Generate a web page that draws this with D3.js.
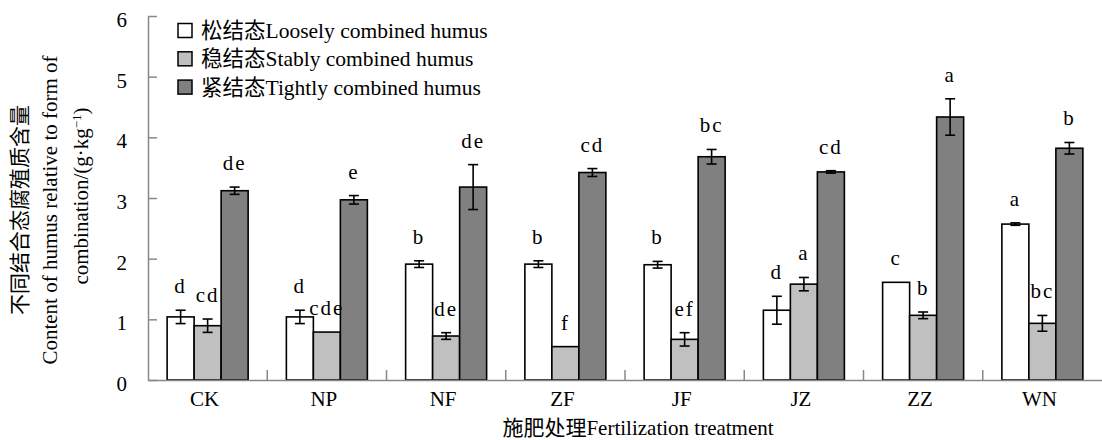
<!DOCTYPE html>
<html>
<head>
<meta charset="utf-8">
<script src="https://cdn.jsdelivr.net/npm/d3@7"></script>
<style>
  body { margin: 0; background: #fff; }
</style>
</head>
<body>
<svg id="chart" width="1102" height="440"></svg>
<script>
const groups = ['CK', 'NP', 'NF', 'ZF', 'JF', 'JZ', 'ZZ', 'WN'];
const seriesNames = ['松结态Loosely combined humus', '稳结态Stably combined humus', '紧结态Tightly combined humus'];
const seriesColors = ['#ffffff', '#c0c0c0', '#808080'];

const loose = [1.04, 1.04, 1.91, 1.91, 1.90, 1.15, 1.61, 2.57];
const looseErr = [0.11, 0.11, 0.055, 0.055, 0.055, 0.23, 0, 0.02];
const looseSig = ['d', 'd', 'b', 'b', 'b', 'd', 'c', 'a'];

const stable = [0.895, 0.79, 0.725, 0.55, 0.67, 1.58, 1.066, 0.934];
const stableErr = [0.11, 0, 0.055, 0, 0.11, 0.11, 0.055, 0.13];
const stableSig = ['cd', 'cde', 'de', 'f', 'ef', 'a', 'b', 'bc'];

const tight = [3.12, 2.97, 3.18, 3.42, 3.68, 3.43, 4.335, 3.82];
const tightErr = [0.06, 0.07, 0.37, 0.065, 0.12, 0.02, 0.30, 0.095];
const tightSig = ['de', 'e', 'de', 'cd', 'bc', 'cd', 'a', 'b'];

const yTicks = [0, 1, 2, 3, 4, 5, 6];

const FONT = "'Liberation Serif', 'Noto Sans CJK SC', serif";

const values = [loose, stable, tight];
const errs = [looseErr, stableErr, tightErr];
const sigs = [looseSig, stableSig, tightSig];

const rows = [];
groups.forEach((g, gi) => {
  seriesNames.forEach((s, si) => {
    rows.push({ g, si, v: values[si][gi], e: errs[si][gi], sig: sigs[si][gi] });
  });
});

const svg = d3.select('#chart');
const plotLeft = 148, plotRight = 1102, plotTop = 16, plotBottom = 380;

const x0 = d3.scaleBand().domain(groups).range([plotLeft, plotRight]).padding(0);
const x1 = d3.scaleBand().domain(d3.range(3)).range([0, x0.bandwidth()])
  .paddingInner(0).paddingOuter(0.708);
const y = d3.scaleLinear().domain([0, 6]).range([plotBottom, plotTop]);

// bars
svg.append('g').selectAll('rect')
  .data(rows)
  .join('rect')
  .attr('x', d => x0(d.g) + x1(d.si))
  .attr('y', d => y(d.v))
  .attr('width', x1.bandwidth())
  .attr('height', d => y(0) - y(d.v))
  .attr('fill', d => seriesColors[d.si])
  .attr('stroke', '#000')
  .attr('stroke-width', 1.6);

// error bars
const eb = svg.append('g').selectAll('g')
  .data(rows.filter(d => d.e > 0))
  .join('g')
  .attr('stroke', '#000')
  .attr('stroke-width', 1.6);
const cx = d => x0(d.g) + x1(d.si) + x1.bandwidth() / 2;
eb.append('line')
  .attr('x1', cx).attr('x2', cx)
  .attr('y1', d => y(d.v - d.e)).attr('y2', d => y(d.v + d.e));
eb.append('line')
  .attr('x1', d => cx(d) - 5).attr('x2', d => cx(d) + 5)
  .attr('y1', d => y(d.v - d.e)).attr('y2', d => y(d.v - d.e));
eb.append('line')
  .attr('x1', d => cx(d) - 5).attr('x2', d => cx(d) + 5)
  .attr('y1', d => y(d.v + d.e)).attr('y2', d => y(d.v + d.e));

// significance letters
svg.append('g').selectAll('text')
  .data(rows)
  .join('text')
  .attr('x', cx)
  .attr('y', d => y(d.v + d.e) - 17)
  .attr('text-anchor', 'middle')
  .attr('font-size', 21)
  .attr('letter-spacing', 2)
  .text(d => d.sig);

// y axis
const yAxis = svg.append('g')
  .attr('transform', `translate(${plotLeft},0)`)
  .call(d3.axisLeft(y).tickValues(yTicks).tickFormat(d3.format('d'))
    .tickSize(-9).tickSizeOuter(0).tickPadding(21));
yAxis.attr('font-size', 21);
yAxis.selectAll('path, line').attr('stroke', '#888').attr('stroke-width', 1.5);
yAxis.selectAll('text').attr('fill', '#000').attr('dy', '0.5em');

// x axis
const xAxis = svg.append('g')
  .attr('transform', `translate(0,${plotBottom})`)
  .call(d3.axisBottom(x0).tickSize(0).tickPadding(11));
xAxis.attr('font-size', 21);
xAxis.select('.domain').attr('stroke', '#888').attr('stroke-width', 1.5);
xAxis.selectAll('text').attr('fill', '#000').attr('dx', -3);

// group separator ticks
svg.append('g').selectAll('line')
  .data(groups.slice(1))
  .join('line')
  .attr('x1', d => x0(d)).attr('x2', d => x0(d))
  .attr('y1', plotBottom).attr('y2', plotBottom - 10)
  .attr('stroke', '#888').attr('stroke-width', 1.5);

// legend
const lg = svg.append('g').selectAll('g')
  .data(seriesNames)
  .join('g')
  .attr('transform', (d, i) => `translate(178,${30.5 + i * 28.3})`);
lg.append('rect')
  .attr('x', 0).attr('y', -7).attr('width', 14).attr('height', 14)
  .attr('fill', (d, i) => seriesColors[i])
  .attr('stroke', '#000').attr('stroke-width', 1.5);
lg.append('text')
  .attr('x', 23).attr('dy', '0.35em')
  .attr('font-size', 21.5)
  .text(d => d);

// axis titles
svg.append('text')
  .attr('x', 638).attr('y', 435)
  .attr('text-anchor', 'middle')
  .attr('font-size', 21)
  .text('施肥处理Fertilization treatment');

const yTitle = ['不同结合态腐殖质含量', 'Content of humus relative to form of'];
const yTitleX = [20, 50];
yTitle.forEach((t, i) => {
  svg.append('text')
    .attr('transform', `translate(${yTitleX[i]},210) rotate(-90)`)
    .attr('text-anchor', 'middle')
    .attr('dy', '0.35em')
    .attr('font-size', 21)
    .text(t);
});
const t3 = svg.append('text')
  .attr('transform', 'translate(81,196) rotate(-90)')
  .attr('text-anchor', 'middle')
  .attr('dy', '0.35em')
  .attr('font-size', 21);
t3.append('tspan').text('combination/(g·kg');
t3.append('tspan').attr('baseline-shift', 'super').attr('font-size', 13).text('−1');
t3.append('tspan').text(')');

// same serif face on every label
svg.selectAll('text').style('font-family', FONT);
</script>
</body>
</html>
